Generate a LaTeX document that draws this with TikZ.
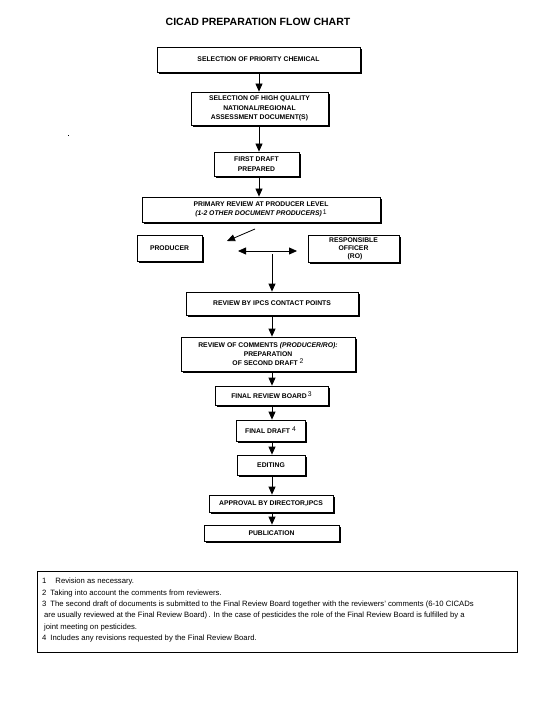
\documentclass[tikz,border=0pt]{standalone}
\usepackage{fontspec}
\setmainfont{Liberation Sans}
\usetikzlibrary{arrows.meta,shadows}
\begin{document}
\begin{tikzpicture}[x=1pt,y=-1pt,
  bx/.style={draw=black, line width=0.8pt, fill=white, inner sep=0pt, align=center,
    font=\fontsize{6.8}{9.5}\selectfont\bfseries,
    drop shadow={shadow xshift=1.8pt, shadow yshift=-1.8pt, fill=black, opacity=1}},
  arr/.style={line width=0.8pt, -{Triangle[width=7pt,length=8pt]}},
  darr/.style={line width=0.8pt, {Triangle[width=7pt,length=8pt]}-{Triangle[width=7pt,length=8pt]}},
  ttl/.style={font=\fontsize{10.5}{12}\selectfont\bfseries, inner sep=0pt},
  fnote/.style={anchor=north west, align=left, inner sep=0pt, font=\fontsize{7.7}{11.3}\selectfont}
]
\fill[white] (0,0) rectangle (533,711);
\useasboundingbox (0,0) rectangle (533,711);

\node[ttl] (title) at (258,22) {CICAD PREPARATION FLOW CHART};

\node[bx, minimum width=203, minimum height=25] (b1) at (258.5,59.5) {SELECTION OF PRIORITY CHEMICAL};
\node[bx, minimum width=137, minimum height=33] (b2) at (259.5,108.5) {SELECTION OF HIGH QUALITY\\NATIONAL/REGIONAL\\ASSESSMENT DOCUMENT(S)};
\node[bx, minimum width=85, minimum height=24] (b3) at (256.5,164) {FIRST DRAFT\\PREPARED};
\node[bx, minimum width=238, minimum height=25] (b4) at (261,209.5) {PRIMARY REVIEW AT PRODUCER LEVEL\\{\itshape (1-2 OTHER DOCUMENT PRODUCERS)}\,\raisebox{1.5pt}{\mdseries 1}};
\node[bx, minimum width=65, minimum height=26] (prod) at (169.5,248) {PRODUCER};
\node[bx, minimum width=91, minimum height=27, font=\fontsize{6.8}{8}\selectfont\bfseries] (ro) at (353.5,248.5) {RESPONSIBLE\\OFFICER\\\hspace*{3pt}(RO)};
\node[bx, minimum width=172, minimum height=23] (ipcs) at (272,303.5) {REVIEW BY IPCS CONTACT POINTS};
\node[bx, minimum width=174, minimum height=34, font=\fontsize{6.8}{9}\selectfont\bfseries] (comm) at (268,354) {REVIEW OF COMMENTS {\itshape (PRODUCER/RO):}\\PREPARATION\\OF SECOND DRAFT \raisebox{2pt}{\mdseries 2}};
\node[bx, minimum width=113, minimum height=19] (frb) at (271.5,395.5) {FINAL REVIEW BOARD\,\raisebox{2pt}{\mdseries 3}};
\node[bx, minimum width=69, minimum height=21] (fd) at (270.5,430.5) {FINAL DRAFT \raisebox{2pt}{\mdseries 4}};
\node[bx, minimum width=68, minimum height=20] (ed) at (271,465) {EDITING};
\node[bx, minimum width=124, minimum height=17] (appr) at (271,503.5) {APPROVAL BY DIRECTOR,IPCS};
\node[bx, minimum width=135, minimum height=16] (pub) at (271.5,533) {PUBLICATION};

\coordinate (cu) at (259,0);
\coordinate (cl) at (272,0);
\draw[arr] (b1.south -| cu) -- (b2.north -| cu);
\draw[arr] (b2.south -| cu) -- (b3.north -| cu);
\draw[arr] (b3.south -| cu) -- (b4.north -| cu);

\coordinate (dgs) at (255,229);
\coordinate (dge) at (227,241);
\draw[arr] (dgs) -- (dge);
\coordinate (hl) at (238,251);
\coordinate (hr) at (297,251);
\draw[darr] (hl) -- (hr);
\coordinate (vs) at (272,254);
\draw[arr] (vs) -- (ipcs.north -| vs);

\draw[arr] (ipcs.south -| cl) -- (comm.north -| cl);
\draw[arr] (comm.south -| cl) -- (frb.north -| cl);
\draw[arr] (frb.south -| cl) -- (fd.north -| cl);
\draw[arr] (fd.south -| cl) -- (ed.north -| cl);
\draw[arr] (ed.south -| cl) -- (appr.north -| cl);
\draw[arr] (appr.south -| cl) -- (pub.north -| cl);

\fill (67.5,135.5) rectangle (68.5,136.5);

\draw[line width=0.8pt] (37,571) rectangle (517,652);
\node[fnote] (fn) at (42,578.2) {1\hspace{9pt}Revision as necessary.\\
2\hspace{4pt}Taking into account the comments from reviewers.\\
3\hspace{4pt}The second draft of documents is submitted to the Final Review Board together with the reviewers' comments (6-10 CICADs\\
\hspace*{2pt}are usually reviewed at the Final Review Board)\,. In the case of pesticides the role of the Final Review Board is fulfilled by a\\
\hspace*{2pt}joint meeting on pesticides.\\
4\hspace{4pt}Includes any revisions requested by the Final Review Board.};
\end{tikzpicture}
\end{document}
